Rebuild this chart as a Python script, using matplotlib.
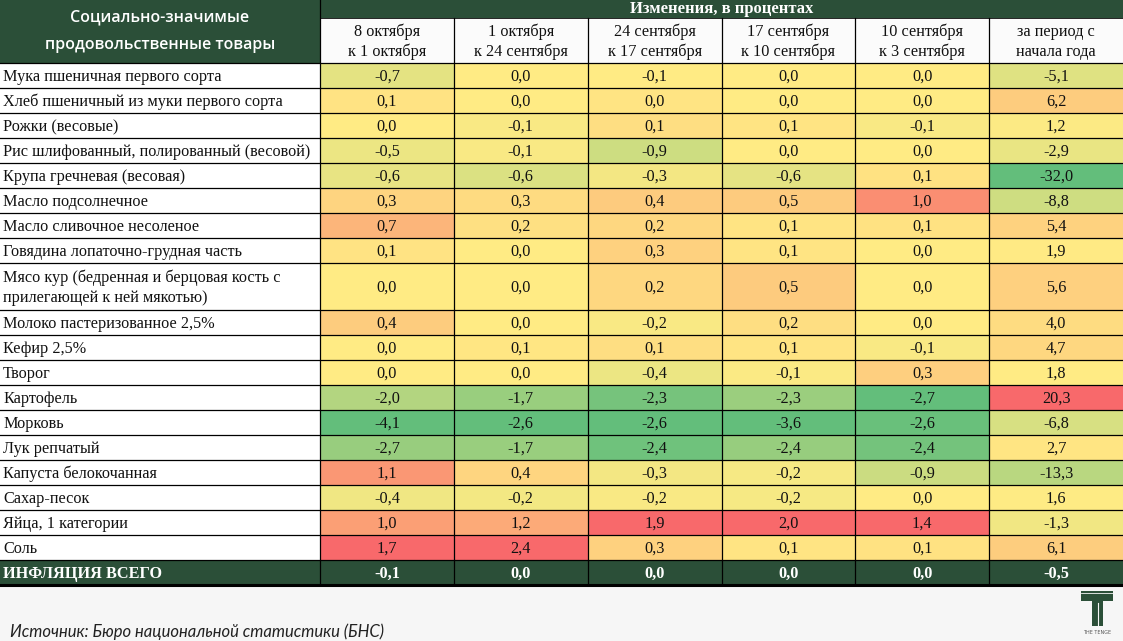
#!/usr/bin/python3
# Table with weekly price changes, coloured per column (green - yellow - red)

import numpy as np
import matplotlib
matplotlib.use("Agg")
import matplotlib.pyplot as plt
from matplotlib.patches import Rectangle

## Data ##################################################################
products = [
    "Мука пшеничная первого сорта",
    "Хлеб пшеничный из муки первого сорта",
    "Рожки (весовые)",
    "Рис шлифованный, полированный (весовой)",
    "Крупа гречневая (весовая)",
    "Масло подсолнечное",
    "Масло сливочное несоленое",
    "Говядина лопаточно-грудная часть",
    "Мясо кур (бедренная и берцовая кость с\nприлегающей к ней мякотью)",
    "Молоко пастеризованное 2,5%",
    "Кефир 2,5%",
    "Творог",
    "Картофель",
    "Морковь",
    "Лук репчатый",
    "Капуста белокочанная",
    "Сахар-песок",
    "Яйца, 1 категории",
    "Соль",
]

periods = [
    "8 октября\nк 1 октября",
    "1 октября\nк 24 сентября",
    "24 сентября\nк 17 сентября",
    "17 сентября\nк 10 сентября",
    "10 сентября\nк 3 сентября",
    "за период с\nначала года",
]

oct8 = [-0.7, 0.1, 0.0, -0.5, -0.6, 0.3, 0.7, 0.1, 0.0, 0.4, 0.0, 0.0, -2.0, -4.1, -2.7, 1.1, -0.4, 1.0, 1.7]
oct1 = [0.0, 0.0, -0.1, -0.1, -0.6, 0.3, 0.2, 0.0, 0.0, 0.0, 0.1, 0.0, -1.7, -2.6, -1.7, 0.4, -0.2, 1.2, 2.4]
sep24 = [-0.1, 0.0, 0.1, -0.9, -0.3, 0.4, 0.2, 0.3, 0.2, -0.2, 0.1, -0.4, -2.3, -2.6, -2.4, -0.3, -0.2, 1.9, 0.3]
sep17 = [0.0, 0.0, 0.1, 0.0, -0.6, 0.5, 0.1, 0.1, 0.5, 0.2, 0.1, -0.1, -2.3, -3.6, -2.4, -0.2, -0.2, 2.0, 0.1]
sep10 = [0.0, 0.0, -0.1, 0.0, 0.1, 1.0, 0.1, 0.0, 0.0, 0.0, -0.1, 0.3, -2.7, -2.6, -2.4, -0.9, 0.0, 1.4, 0.1]
ytd = [-5.1, 6.2, 1.2, -2.9, -32.0, -8.8, 5.4, 1.9, 5.6, 4.0, 4.7, 1.8, 20.3, -6.8, 2.7, -13.3, 1.6, -1.3, 6.1]

total_label = "ИНФЛЯЦИЯ ВСЕГО"
total = [-0.1, 0.0, 0.0, 0.0, 0.0, -0.5]

## Style #################################################################
DARK = "#2b4f38"
GREEN = np.array([99, 190, 123]) / 255
YELLOW = np.array([255, 235, 132]) / 255
RED = np.array([248, 105, 107]) / 255
SERIF = "Liberation Serif"
FS = 11.7   # table font size


##
# Excel-like 3 colour scale (min / median / max) for one column
def scale_colors(vals):
    v = np.array(vals)
    lo, mid, hi = v.min(), np.median(v), v.max()
    out = []
    for x in v:
        if x <= mid:
            t = 0 if mid == lo else (mid - x) / (mid - lo)
            out.append(YELLOW + (GREEN - YELLOW) * t)
        else:
            t = (x - mid) / (hi - mid)
            out.append(YELLOW + (RED - YELLOW) * t)
    return out


def fmt(x):
    return ("%.1f" % x).replace(".", ",")


def main():
    columns = [oct8, oct1, sep24, sep17, sep10, ytd]

    fig = plt.figure(figsize=(11.23, 6.41), dpi=100)
    fig.patch.set_facecolor("#f6f6f6")
    ax = fig.add_axes([0, 0, 1, 1])
    ax.set_xlim(0, 1123)
    ax.set_ylim(641, 0)
    ax.axis("off")

    # layout
    label_w = 320
    col_w = (1123 - label_w) / len(columns)
    x_edges = [label_w + i * col_w for i in range(len(columns) + 1)]
    band_h = 18
    head_h = 63
    row_h = [47 if "\n" in p else 25 for p in products] + [25]
    y_edges = np.concatenate([[head_h], head_h + np.cumsum(row_h)])
    dy = 1.5    # small downward shift of text inside cells

    # header
    ax.add_patch(Rectangle((0, 0), 1123, band_h, fc=DARK, ec="none"))
    ax.add_patch(Rectangle((0, 0), label_w, head_h, fc=DARK, ec="none"))
    ax.add_patch(Rectangle((label_w, band_h), 1123 - label_w, head_h - band_h,
                           fc="#fbfbfb", ec="none"))
    ax.text(160, 17, "Социально-значимые", ha="center", va="center",
            color="white", fontsize=11.5, family="Open Sans", weight="semibold")
    ax.text(160, 45, "продовольственные товары", ha="center", va="center",
            color="white", fontsize=11.5, family="Open Sans", weight="semibold")
    ax.text((label_w + 1123) / 2, band_h / 2, "Изменения, в процентах",
            ha="center", va="center", color="white", fontsize=12,
            family=SERIF, weight="bold")
    for j, p in enumerate(periods):
        xc = (x_edges[j] + x_edges[j + 1]) / 2
        ax.text(xc, (band_h + head_h) / 2 + 1.5, p, ha="center", va="center",
                fontsize=FS, family=SERIF, color="#111111", linespacing=1.3)

    # body
    ax.add_patch(Rectangle((0, head_h), label_w, y_edges[-2] - head_h,
                           fc="white", ec="none"))
    for i, name in enumerate(products):
        y0, y1 = y_edges[i], y_edges[i + 1]
        ax.text(3, (y0 + y1) / 2 + dy, name, ha="left", va="center",
                fontsize=FS, family=SERIF, color="#111111", linespacing=1.3)
    for j, vals in enumerate(columns):
        cols = scale_colors(vals)
        for i, v in enumerate(vals):
            y0, y1 = y_edges[i], y_edges[i + 1]
            ax.add_patch(Rectangle((x_edges[j], y0), col_w, y1 - y0,
                                   fc=cols[i], ec="none"))
            ax.text((x_edges[j] + x_edges[j + 1]) / 2, (y0 + y1) / 2 + dy,
                    fmt(v), ha="center", va="center", fontsize=FS,
                    family=SERIF, color="#111111")

    # total row
    y0, y1 = y_edges[-2], y_edges[-1]
    ax.add_patch(Rectangle((0, y0), 1123, y1 - y0, fc=DARK, ec="none"))
    ax.text(3, (y0 + y1) / 2 + dy, total_label, ha="left", va="center",
            fontsize=FS, family=SERIF, weight="bold", color="white")
    for j, v in enumerate(total):
        ax.text((x_edges[j] + x_edges[j + 1]) / 2, (y0 + y1) / 2 + dy, fmt(v),
                ha="center", va="center", fontsize=FS, family=SERIF,
                weight="bold", color="white")

    # grid lines
    for y in y_edges[:-1]:
        ax.plot([0, 1123], [y, y], color="black", lw=0.9)
    ax.plot([label_w, 1123], [band_h, band_h], color="black", lw=0.6)
    ax.plot([0, 1123], [y_edges[-1], y_edges[-1]], color="black", lw=2.2)
    for x in x_edges[:-1]:
        ax.plot([x, x], [band_h if x > label_w else 0, y_edges[-1]],
                color="black", lw=0.9)

    # footer
    ax.text(10, 632, "Источник: Бюро национальной статистики (БНС)",
            ha="left", va="center", fontsize=12, family="Lato",
            style="italic", color="#222222")
    ax.add_patch(Rectangle((1081, 591), 32, 10, fc=DARK, ec="none"))
    ax.add_patch(Rectangle((1092, 601), 11, 25, fc=DARK, ec="none"))
    ax.plot([1097.5, 1097.5], [603, 626], color="#f6f6f6", lw=0.8)
    ax.plot([1081, 1113], [593, 593], color="#f6f6f6", lw=0.6)
    ax.text(1097, 633, "THE TENGE", ha="center", va="center", fontsize=3.5,
            color="#555555", family="DejaVu Sans")

    fig.savefig("out.png", dpi=100, facecolor=fig.get_facecolor())


if __name__ == '__main__':
    main()
